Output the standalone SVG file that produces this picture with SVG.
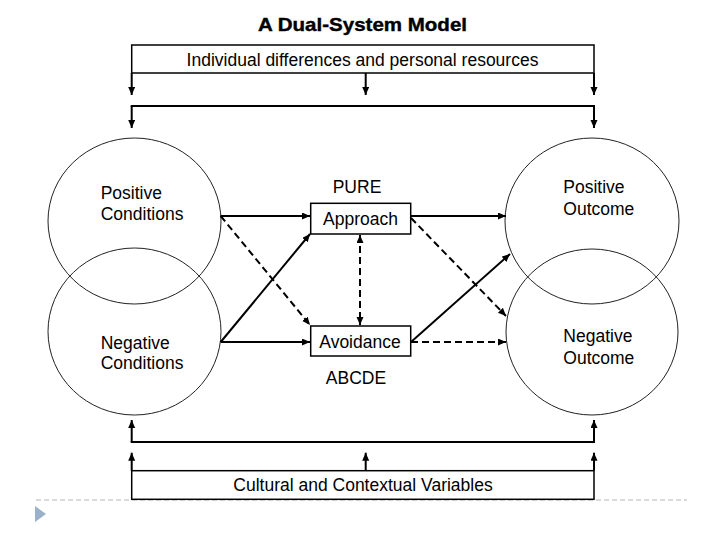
<svg xmlns="http://www.w3.org/2000/svg" width="720" height="540" viewBox="0 0 720 540">
<style>
text{font-family:"Liberation Sans",Arial,sans-serif;font-size:17.5px;fill:#000}
.title{font-weight:bold;font-size:19px;stroke:#000;stroke-width:0.4}
.box{fill:#fff;stroke:#000;stroke-width:1.5}
.circ{fill:none;stroke:#222;stroke-width:1}
.ln{fill:none;stroke:#000;stroke-width:2}
.arr{fill:none;stroke:#000;stroke-width:2;marker-end:url(#ah)}
.dash{stroke-dasharray:7 4}
.dbl{marker-start:url(#ah)}
</style>
<defs>
<marker id="ah" markerUnits="userSpaceOnUse" markerWidth="9" markerHeight="8" refX="8" refY="3.5" orient="auto-start-reverse">
<path d="M0,0 L8,3.5 L0,7 z" fill="#000"/>
</marker>
</defs>
<rect width="720" height="540" fill="#fff"/>
<g id="slide-deco">
<line x1="36" y1="500" x2="687" y2="500" stroke="#b4b4b4" stroke-width="1" stroke-dasharray="5 3"/>
<polygon points="35,506 46,514 35,522" fill="#9bb0c9"/>
</g>
<text class="title" x="258" y="31" textLength="209" lengthAdjust="spacingAndGlyphs">A Dual-System Model</text>
<g id="individual">
<rect class="box" x="131.7" y="45" width="462.3" height="28"/>
<text x="362.5" y="66" text-anchor="middle">Individual differences and personal resources</text>
</g>
<g id="cultural">
<rect class="box" x="131.7" y="470.7" width="462.3" height="28.6"/>
<text x="363" y="491" text-anchor="middle">Cultural and Contextual Variables</text>
</g>
<g id="positive-conditions">
<ellipse class="circ" cx="134.5" cy="221" rx="86.5" ry="83"/>
<text x="100.7" y="199">Positive</text>
<text x="100.7" y="220">Conditions</text>
</g>
<g id="negative-conditions">
<ellipse class="circ" cx="134.5" cy="331.5" rx="86.5" ry="83.5"/>
<text x="100.7" y="348.5">Negative</text>
<text x="100.7" y="369">Conditions</text>
</g>
<g id="positive-outcome">
<ellipse class="circ" cx="592" cy="221" rx="87" ry="83"/>
<text x="563.3" y="193">Positive</text>
<text x="563.3" y="215">Outcome</text>
</g>
<g id="negative-outcome">
<ellipse class="circ" cx="592" cy="332" rx="86" ry="83"/>
<text x="563.3" y="342">Negative</text>
<text x="563.3" y="363.5">Outcome</text>
</g>
<g id="pure">
<text x="357" y="192.5" text-anchor="middle">PURE</text>
</g>
<g id="approach">
<rect class="box" x="310.7" y="203.3" width="100" height="30.7"/>
<text x="360.5" y="225" text-anchor="middle">Approach</text>
</g>
<g id="avoidance">
<rect class="box" x="310.7" y="326" width="100" height="30"/>
<text x="360" y="347.5" text-anchor="middle">Avoidance</text>
</g>
<g id="abcde">
<text x="356" y="384" text-anchor="middle">ABCDE</text>
</g>
<g id="connectors">
<line class="arr" x1="131.7" y1="73" x2="131.7" y2="95"/>
<line class="arr" x1="365.7" y1="73" x2="365.7" y2="95"/>
<line class="arr" x1="594" y1="73" x2="594" y2="95"/>
<line class="ln" x1="130.7" y1="106" x2="595" y2="106"/>
<line class="arr" x1="131.7" y1="106" x2="131.7" y2="128"/>
<line class="arr" x1="594" y1="106" x2="594" y2="128"/>
<line class="ln" x1="130.7" y1="442" x2="595" y2="442"/>
<line class="arr" x1="131.7" y1="442" x2="131.7" y2="420"/>
<line class="arr" x1="594" y1="442" x2="594" y2="420"/>
<line class="arr" x1="131.7" y1="470.7" x2="131.7" y2="452.7"/>
<line class="arr" x1="365.7" y1="470.7" x2="365.7" y2="452.7"/>
<line class="arr" x1="594" y1="470.7" x2="594" y2="452.7"/>
<line class="arr" x1="220.7" y1="216" x2="310" y2="216"/>
<line class="arr dash" x1="220.7" y1="216" x2="310" y2="325"/>
<line class="arr" x1="220.7" y1="342" x2="310" y2="234"/>
<line class="arr" x1="220.7" y1="342" x2="310" y2="342"/>
<line class="arr dash dbl" x1="360" y1="235" x2="360" y2="325"/>
<line class="arr" x1="411" y1="216" x2="506" y2="216"/>
<line class="arr dash" x1="411" y1="218" x2="506" y2="316"/>
<line class="arr" x1="411" y1="342" x2="510" y2="254"/>
<line class="arr dash" x1="411" y1="342" x2="506" y2="342"/>
</g>
</svg>
